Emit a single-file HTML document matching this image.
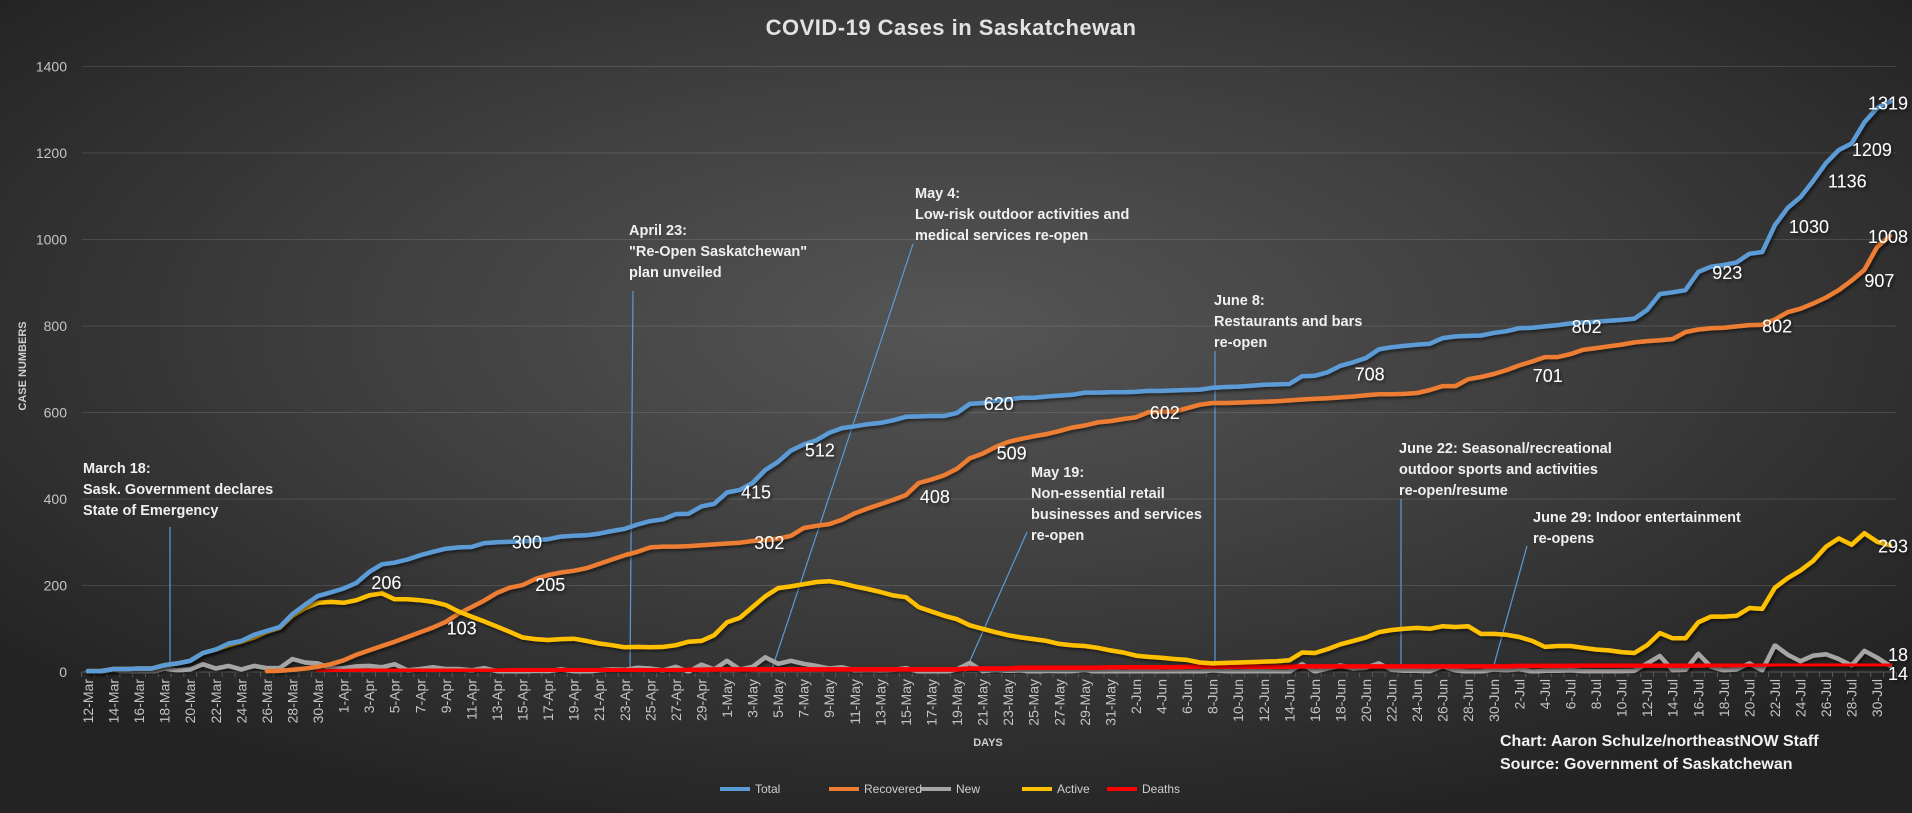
<!DOCTYPE html>
<html>
<head>
<meta charset="utf-8">
<style>
html,body{margin:0;padding:0;}
body{width:1912px;height:813px;overflow:hidden;background:#2b2b2b;}
svg{display:block;font-family:"Liberation Sans",sans-serif;}
</style>
</head>
<body>
<svg id="chart" width="1912" height="813" viewBox="0 0 1912 813" xmlns="http://www.w3.org/2000/svg">
<defs>
<radialGradient id="bg" cx="50%" cy="40%" r="65%">
<stop offset="0%" stop-color="#555555"/>
<stop offset="50%" stop-color="#3e3e3e"/>
<stop offset="100%" stop-color="#232323"/>
</radialGradient>
<filter id="sh" x="-5%" y="-5%" width="110%" height="110%">
<feDropShadow dx="2" dy="2" stdDeviation="1.5" flood-color="#000" flood-opacity="0.55"/>
</filter>
</defs>
<rect x="0" y="0" width="1912" height="813" fill="url(#bg)"/>
<text x="951" y="35" text-anchor="middle" font-size="22" font-weight="bold" fill="#e2e2e2" letter-spacing="0.5">COVID-19 Cases in Saskatchewan</text>
<text transform="translate(26,366) rotate(-90)" text-anchor="middle" font-size="11" font-weight="bold" fill="#cfcfcf">CASE NUMBERS</text>
<text x="988" y="746" text-anchor="middle" font-size="11" font-weight="bold" fill="#cfcfcf">DAYS</text>
<g id="grid"></g>
<g id="annotations"></g>
<g id="series"></g>
<g id="labels"></g>
<g id="legend"></g>
<text x="1500" y="746" font-size="16" font-weight="bold" fill="#f2f2f2">Chart: Aaron Schulze/northeastNOW Staff</text>
<text x="1500" y="769" font-size="16" font-weight="bold" fill="#f2f2f2">Source: Government of Saskatchewan</text>
</svg>
<script>
const categories = [
"12-Mar","13-Mar","14-Mar","15-Mar","16-Mar","17-Mar","18-Mar","19-Mar","20-Mar","21-Mar","22-Mar","23-Mar","24-Mar","25-Mar","26-Mar","27-Mar","28-Mar","29-Mar","30-Mar","31-Mar",
"1-Apr","2-Apr","3-Apr","4-Apr","5-Apr","6-Apr","7-Apr","8-Apr","9-Apr","10-Apr","11-Apr","12-Apr","13-Apr","14-Apr","15-Apr","16-Apr","17-Apr","18-Apr","19-Apr","20-Apr","21-Apr","22-Apr","23-Apr","24-Apr","25-Apr","26-Apr","27-Apr","28-Apr","29-Apr","30-Apr",
"1-May","2-May","3-May","4-May","5-May","6-May","7-May","8-May","9-May","10-May","11-May","12-May","13-May","14-May","15-May","16-May","17-May","18-May","19-May","20-May","21-May","22-May","23-May","24-May","25-May","26-May","27-May","28-May","29-May","30-May","31-May",
"1-Jun","2-Jun","3-Jun","4-Jun","5-Jun","6-Jun","7-Jun","8-Jun","9-Jun","10-Jun","11-Jun","12-Jun","13-Jun","14-Jun","15-Jun","16-Jun","17-Jun","18-Jun","19-Jun","20-Jun","21-Jun","22-Jun","23-Jun","24-Jun","25-Jun","26-Jun","27-Jun","28-Jun","29-Jun","30-Jun",
"1-Jul","2-Jul","3-Jul","4-Jul","5-Jul","6-Jul","7-Jul","8-Jul","9-Jul","10-Jul","11-Jul","12-Jul","13-Jul","14-Jul","15-Jul","16-Jul","17-Jul","18-Jul","19-Jul","20-Jul","21-Jul","22-Jul","23-Jul","24-Jul","25-Jul","26-Jul","27-Jul","28-Jul","29-Jul","30-Jul","31-Jul"];
const yTicks = [0,200,400,600,800,1000,1200,1400];
const total = [
2,2,7,7,8,8,16,20,26,44,52,66,72,86,95,104,134,156,176,184,
193,206,231,249,253,260,270,278,285,288,289,298,300,301,302,305,307,313,315,316,320,326,331,341,349,353,365,366,383,389,
415,421,437,467,486,512,526,536,553,564,568,573,576,582,590,591,592,592,599,620,622,627,630,634,634,637,639,641,646,646,647,
647,648,650,650,651,652,653,657,659,660,662,664,665,666,684,685,693,708,716,726,746,751,754,757,759,772,776,777,778,784,
788,795,796,799,802,806,808,810,812,814,817,837,874,878,883,925,937,941,947,967,971,1033,1073,1098,1136,1177,1207,1222,1271,1304,1319];
const recovered = [
null,null,null,null,null,null,null,null,null,null,null,null,null,null,2,3,5,8,12,18,
27,40,50,60,70,81,92,103,116,135,150,165,183,195,201,215,224,230,234,240,250,260,270,278,288,290,290,291,293,295,
297,299,303,305,308,315,333,338,342,352,367,378,388,398,409,437,445,455,470,494,505,520,532,539,545,550,557,565,570,577,580,
585,589,601,602,602,610,618,622,622,623,624,625,626,628,630,632,633,635,637,640,642,642,643,645,652,661,661,677,682,689,
698,709,718,728,728,735,745,749,753,757,762,765,767,770,786,792,795,796,799,802,803,815,832,840,852,866,883,905,930,983,1008];
const newCases = [
2,0,5,0,1,0,8,4,6,18,8,14,6,14,9,9,30,22,20,8,
9,13,14,11,18,4,7,11,7,7,4,9,2,1,1,3,2,6,2,1,4,6,5,10,8,4,12,1,17,6,
26,6,12,34,19,26,19,14,8,11,4,5,4,5,9,1,1,0,6,21,2,5,3,4,0,3,2,2,5,0,1,
0,1,2,0,1,1,1,4,2,1,2,2,1,1,18,1,8,15,8,10,20,5,3,3,2,13,4,1,1,6,
4,7,1,3,3,4,2,2,2,2,3,20,37,4,5,42,12,4,6,20,4,62,40,25,38,41,30,15,49,33,14];
const active = [
2,2,7,7,8,8,16,20,26,44,52,62,70,80,93,102,130,148,160,162,
160,166,177,182,168,168,166,162,155,140,128,117,105,93,80,76,74,76,77,72,66,62,57,58,57,58,62,70,72,85,
115,125,150,175,194,198,203,208,210,205,198,192,185,177,173,150,140,130,122,108,100,92,85,80,76,72,65,62,60,56,50,
45,38,35,33,30,28,22,20,21,22,23,24,25,27,45,44,53,64,72,80,92,97,100,102,100,106,104,106,88,88,
86,81,72,58,60,60,56,52,50,46,44,62,90,78,78,115,128,128,130,148,146,195,217,235,257,290,309,294,321,301,293];
const deaths = [
null,null,null,null,null,null,null,null,null,null,null,null,null,null,null,null,null,null,1,2,
2,3,3,3,3,3,3,3,3,3,3,3,3,4,4,4,4,4,4,4,4,4,4,4,4,4,4,5,5,6,
6,6,6,6,6,6,6,6,6,6,6,6,6,6,6,6,6,6,6,8,8,8,8,10,10,10,10,10,10,10,11,
11,11,11,11,11,12,12,12,12,12,12,12,12,12,13,13,13,13,13,13,13,13,13,13,13,13,13,13,13,13,
13,14,14,14,14,14,15,15,15,15,15,15,15,15,15,15,16,16,16,17,17,18,18,18,18,18,18,18,18,18,18];
const seriesNames = ["Total","Recovered","New","Active","Deaths"];
const seriesColors = ["#5B9BD5","#ED7D31","#A5A5A5","#FFC000","#FF0000"];
const labelSeries = [0,0,0,0,0,0,0,0,0,0,0,0, 1,1,1,1,1,1,1,1,1, 3,3, 2,4];
const labelIndex = [21,32,50,55,69,97,115,126,132,135,137,141, 35,53,64,70,83,110,131,139,141, 29,141, 141,141];
const labelText = ["206","300","415","512","620","708","802","923","1030","1136","1209","1319",
"205","302","408","509","602","701","802","907","1008","103","293","14","18"];
const labelDx = [30,30,29,29,29,42,29,29,34,34,33,-2, 15,4,29,29,16,54,15,15,-2, 3,3, 8,8];
const labelDy = [0,0,0,0,0,2,2,1,2,1,0,2, 6,3,2,0,1,2,2,11,1, 17,1, 8,-9];

const NS = "http://www.w3.org/2000/svg";
const plotLeft = 81.6, band = 12.78, plotTop = 66.5, plotBottom = 672, yMax = 1400;
function x(i){ return plotLeft + band*(i+0.5); }
function y(v){ return plotBottom - (v/yMax)*(plotBottom-plotTop); }
function mk(tag, attrs, parent){
  const el = document.createElementNS(NS, tag);
  for (const k in attrs) el.setAttribute(k, attrs[k]);
  parent.appendChild(el);
  return el;
}
const plotRight = plotLeft + band*categories.length;
const grid = document.getElementById("grid");
yTicks.forEach(function(t){
  if (t > 0) {
    const gl = mk("line", {x1:plotLeft, x2:plotRight, y1:y(t), y2:y(t), stroke:"#ffffff", "stroke-opacity":"0.12", "stroke-width":"1"}, grid);
    
    
  }
  const tl = mk("text", {x:67, y:y(t)+5, "text-anchor":"end", "font-size":"14", fill:"#c4c4c4"}, grid);
  tl.textContent = t;
  
  
});
const axis = mk("line", {x1:plotLeft, x2:plotRight, y1:plotBottom, y2:plotBottom, stroke:"#5a5a5a", "stroke-width":"1"}, grid);


for (let i=0;i<=categories.length;i++){
  const tk = mk("line", {x1:plotLeft+band*i, x2:plotLeft+band*i, y1:plotBottom, y2:plotBottom+5, stroke:"#5a5a5a", "stroke-width":"1"}, grid);
  
  
}
categories.forEach(function(c,i){
  if (i % 2 !== 0) return;
  const t = mk("text", {transform:"translate("+(x(i)+5)+","+(plotBottom+7)+") rotate(-90)", "text-anchor":"end", "font-size":"14", fill:"#c4c4c4"}, grid);
  t.textContent = c;
  
  
});

const ann = document.getElementById("annotations");
const annLines = [
 [[170,527],[170,672]],[[633,291],[630,672]],[[913,244],[771,672]],[[1027,532],[965,672]],
 [[1215,351],[1215,672]],[[1401,499],[1401,672]],[[1527,546],[1492,672]]];
const annNames = ["march-18","april-23","may-4","may-19","june-8","june-22","june-29"];
const annText = [
 [83,468,["March 18:","Sask. Government declares","State of Emergency"]],
 [629,230,["April 23:","\"Re-Open Saskatchewan\"","plan unveiled"]],
 [915,193,["May 4:","Low-risk outdoor activities and","medical services re-open"]],
 [1031,472,["May 19:","Non-essential retail","businesses and services","re-open"]],
 [1214,300,["June 8:","Restaurants and bars","re-open"]],
 [1399,448,["June 22: Seasonal/recreational","outdoor sports and activities","re-open/resume"]],
 [1533,517,["June 29: Indoor entertainment","re-opens"]]];
annLines.forEach(function(l,k){
  const ln = mk("line", {x1:l[0][0], y1:l[0][1], x2:l[1][0], y2:l[1][1], stroke:"#5B9BD5", "stroke-width":"1.2"}, ann);
  
  
  const a = annText[k];
  const t = mk("text", {x:a[0], y:a[1]+5, "font-size":"14.5", "font-weight":"bold", fill:"#f0f0f0"}, ann);
  
  
  a[2].forEach(function(s,j){
    const sp = mk("tspan", {x:a[0], dy: j===0 ? 0 : 21}, t);
    sp.textContent = s;
  });
});

const allSeries = [total, recovered, newCases, active, deaths];
const sg = document.getElementById("series");
const order = [2,4,1,3,0];
order.forEach(function(s){
  const data = allSeries[s];
  let d = "", pen = false;
  data.forEach(function(v,i){
    if (v === null) { pen = false; return; }
    d += (pen ? "L" : "M") + x(i).toFixed(1) + "," + y(v).toFixed(1);
    pen = true;
  });
  const p = mk("path", {d:d, fill:"none", stroke:seriesColors[s], "stroke-width":"4.5", "stroke-linejoin":"round", "stroke-linecap":"round", filter:"url(#sh)"}, sg);
  
  
});

const lg = document.getElementById("labels");
labelText.forEach(function(txt,k){
  const s = labelSeries[k], i = labelIndex[k];
  const v = allSeries[s][i];
  const t = mk("text", {x:x(i)+labelDx[k], y:y(v)+labelDy[k]+6, "text-anchor":"middle", "font-size":"18", fill:"#ffffff", filter:"url(#sh)"}, lg);
  t.textContent = txt;
  
  
});

const leg = document.getElementById("legend");
const legX = [720,829,921,1022,1107];
seriesNames.forEach(function(n,s){
  const g = mk("g", {}, leg);
  
  
  mk("line", {x1:legX[s], x2:legX[s]+30, y1:789, y2:789, stroke:seriesColors[s], "stroke-width":"4"}, g);
  const t = mk("text", {x:legX[s]+35, y:793, "font-size":"12", fill:"#cfcfcf"}, g);
  t.textContent = n;
});
</script>
</body>
</html>
